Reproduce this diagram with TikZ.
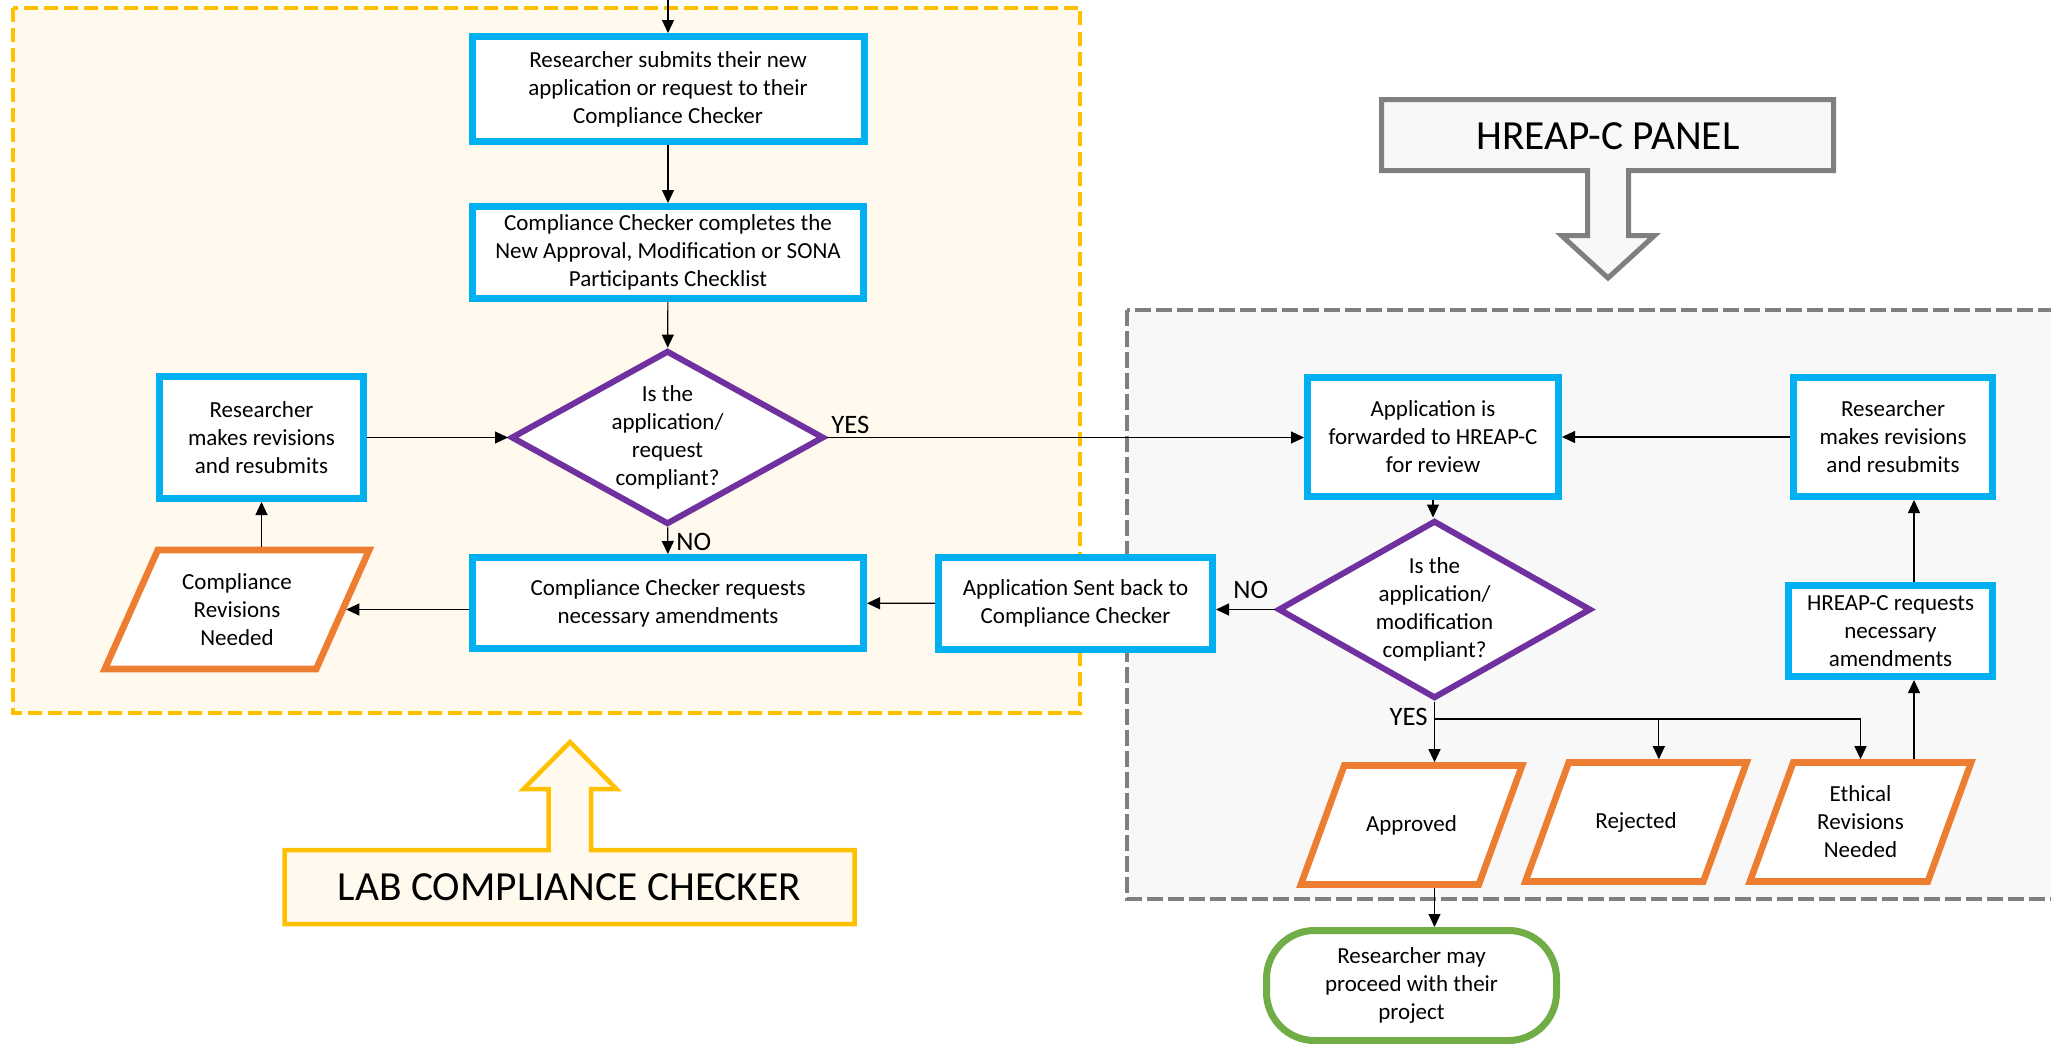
\documentclass[tikz,border=0pt]{standalone}
\usepackage{fontspec}
\setmainfont{Carlito}
\usepackage{xcolor}
\usepackage{tikz}
\usetikzlibrary{arrows.meta, shapes.geometric, calc}
\definecolor{stepblue}{HTML}{00B0F0}
\definecolor{querypurple}{HTML}{7030A0}
\definecolor{outorange}{HTML}{ED7D31}
\definecolor{endgreen}{HTML}{70AD47}
\definecolor{labgold}{HTML}{FFC000}
\definecolor{labcream}{HTML}{FFF9EE}
\definecolor{panelgray}{HTML}{7F7F7F}
\definecolor{panelfill}{HTML}{F8F8F8}
% fixed body for the slanted outcome boxes
\newcommand{\outbox}[2]{\parbox[c][59.5pt][c]{#1}{\centering #2}}

\begin{document}
\begin{tikzpicture}[x=0.5pt, y=-0.5pt,
    boxtext/.style={font=\fontsize{11.5}{14}\selectfont, align=center,
      inner sep=0pt},
    stepbox/.style={boxtext, draw=stepblue, fill=white, line width=3.5pt},
    query/.style={boxtext, shape=diamond, aspect=1.8, draw=querypurple,
      fill=white, line width=3pt, minimum width=156.5pt,
      minimum height=87pt},
    outcome/.style={boxtext, shape=trapezium,
      trapezium left angle=70, trapezium right angle=110,
      draw=outorange, fill=white, line width=3.3pt},
    endbox/.style={boxtext, draw=endgreen, fill=white, line width=3.5pt,
      rounded corners=24pt, minimum width=145pt, minimum height=55pt},
    answer/.style={font=\fontsize{13.3}{16}\selectfont, inner sep=0pt},
    callout/.style={font=\fontsize{20.7}{25}\selectfont, inner sep=0pt},
    arr/.style={-{Triangle[length=6.5pt, width=6pt]}, line width=0.6pt},
  ]
        \useasboundingbox (0,0) rectangle (2051,1044);
        % Dashed panels
        \draw[labgold, line width=2pt, dash pattern=on 7pt off 3pt,
          fill=labcream] (13,7.5) rectangle (1080,713);
        \draw[panelgray, line width=2pt, dash pattern=on 8pt off 2.5pt,
          fill=panelfill] (1127,310) rectangle (2062,899);
        % Block arrow callouts
        \filldraw[draw=labgold, fill=labcream, line width=2.25pt]
          (284.5,850) -- (548.5,850) -- (548.5,789) -- (523.5,789)
          -- (570,742) -- (616.5,789) -- (591,789) -- (591,850)
          -- (854.5,850) -- (854.5,924) -- (284.5,924) -- cycle;
        \filldraw[draw=panelgray, fill=panelfill, line width=2.5pt]
          (1381.5,99.5) -- (1833.5,99.5) -- (1833.5,170.5)
          -- (1628.5,170.5) -- (1628.5,235.5) -- (1654.5,235.5)
          -- (1608,278) -- (1561.5,235.5) -- (1587.5,235.5)
          -- (1587.5,170.5) -- (1381.5,170.5) -- cycle;
        \node[callout] (labtitle) at (569.5,887.5) {LAB COMPLIANCE CHECKER};
        \node[callout] (paneltitle) at (1608,136) {HREAP-C PANEL};
        % Lab compliance checker steps
        \node[stepbox, minimum width=196pt, minimum height=52.5pt]
          (submit) at (668,89)
          {Researcher submits their new\\application or request to their\\Compliance Checker};
        \node[stepbox, minimum width=195.5pt, minimum height=46pt]
          (checklist) at (668,252.5)
          {Compliance Checker completes the\\New Approval, Modification or SONA\\Participants Checklist};
        \node[query] (labquery) at (667.5,437.5)
          {Is the\\application/\\request\\compliant?};
        \node[stepbox, minimum width=195.5pt, minimum height=45.5pt]
          (labamend) at (668,603)
          {Compliance Checker requests\\necessary amendments};
        \node[stepbox, minimum width=102pt, minimum height=61pt]
          (labresubmit) at (261.5,437.5)
          {Researcher\\makes revisions\\and resubmits};
        \node[outcome, trapezium left angle=66, trapezium right angle=114]
          (labrevise) at (237,609.5)
          {\outbox{79.2pt}{Compliance\\Revisions\\Needed}};
        \node[stepbox, minimum width=137pt, minimum height=46pt]
          (sentback) at (1075.5,603.5)
          {Application Sent back to\\Compliance Checker};
        % HREAP-C panel steps
        \node[stepbox, minimum width=125.5pt, minimum height=59.5pt]
          (forward) at (1433,437)
          {Application is\\forwarded to HREAP-C\\for review};
        \node[stepbox, minimum width=99.5pt, minimum height=59.5pt]
          (panelresubmit) at (1893,437)
          {Researcher\\makes revisions\\and resubmits};
        \node[query, minimum height=89pt] (panelquery) at (1434.5,609.5)
          {Is the\\application/\\modification\\compliant?};
        \node[stepbox, minimum width=102pt, minimum height=45.5pt]
          (panelamend) at (1890.5,631)
          {HREAP-C requests\\necessary\\amendments};
        \node[outcome] (approved) at (1411.5,825)
          {\outbox{67.3pt}{Approved}};
        \node[outcome] (rejected) at (1636,822)
          {\outbox{67.3pt}{Rejected}};
        \node[outcome] (ethical) at (1860.5,822)
          {\outbox{67.3pt}{Ethical\\Revisions\\Needed}};
        \node[endbox] (proceed) at (1411.5,985.5)
          {Researcher may\\proceed with their\\project};
        % Decision labels
        \node[answer, anchor=base west] (labyes) at (831,433) {YES};
        \node[answer, anchor=base west] (labno) at (676,550) {NO};
        \node[answer, anchor=base west] (panelno) at (1233,598) {NO};
        \node[answer, anchor=base east] (panelyes) at (1428,725) {YES};
        % Connectors
        \coordinate (entry) at (668,0);
        \draw[arr] (entry) -- (submit.north);
        \draw[arr] (submit) -- (checklist);
        \draw[arr] (checklist) -- (labquery);
        \draw[arr] (labquery) -- (labamend);
        \draw[arr] (labquery.east) -- (labquery.east -| forward.west);
        \draw[arr] (labresubmit) -- (labquery);
        \draw[arr] (labrevise.north -| labresubmit.south)
          -- (labresubmit.south);
        \draw[arr] (labamend.west |- labrevise.east) -- (labrevise.east);
        \draw[arr] (sentback) -- (labamend);
        \draw[arr] (panelquery.west) -- (panelquery.west -| sentback.east);
        \draw[arr] (forward.south) -- (forward.south |- panelquery.north);
        \draw[arr] (panelresubmit) -- (forward);
        % YES branches
        \coordinate (split) at ($(panelquery.south)+(0,17.5)$);
        \draw[line width=0.6pt] (panelquery.south) -- (split);
        \draw[line width=1pt] (split) -- (split -| ethical.north);
        \draw[arr] (split) -- (split |- approved.north);
        \draw[arr] (split -| rejected.top side) -- (rejected.top side);
        \draw[arr] (split -| ethical.north) -- (ethical.north);
        \coordinate (ethup) at ($(panelamend.south)+(23.5,0)$);
        \draw[arr] (ethical.north -| ethup) -- (ethup);
        \draw[arr] (panelamend.north -| ethup)
          -- (panelresubmit.south -| ethup);
        \draw[arr] (approved.south -| split) -- (proceed.north -| split);
\end{tikzpicture}
\end{document}
